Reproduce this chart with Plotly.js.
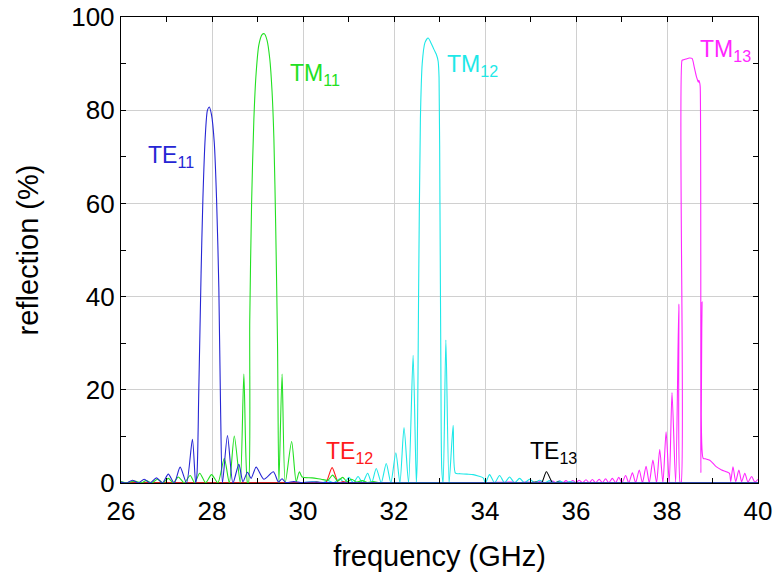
<!DOCTYPE html>
<html>
<head>
<meta charset="utf-8">
<script src="https://cdn.plot.ly/plotly-3.0.1.min.js"></script>
<style>html,body{margin:0;padding:0;background:#fff}#chart{width:779px;height:585px}</style>
</head>
<body>
<div id="chart"></div>
<script>
// ---- data (frequency in GHz, reflection in %) ----
const te11Freq = [26.0, 26.12, 26.25, 26.38, 26.51, 26.64, 26.78, 26.91, 27.04, 27.17, 27.30, 27.44, 27.57, 27.64, 27.67, 27.71, 27.76, 27.80, 27.85, 27.90, 27.94, 27.99, 28.05, 28.10, 28.15, 28.19, 28.23, 28.34, 28.46, 28.59, 28.68, 28.78, 28.86, 28.97, 29.14, 29.35, 29.46, 29.54, 29.62, 29.80, 29.95, 30.20, 30.50, 31.0, 32.0, 34.0, 36.0, 38.0, 40.0];
const te11Refl = [0.2, 0.0, 0.6, 0.0, 0.8, 0.0, 1.1, 0.0, 1.9, 0.0, 3.4, 0.0, 9.4, 0.0, 2.0, 20, 45, 61, 74, 80, 80.7, 79, 73, 61, 42, 15, 0, 10.2, 0, 4.0, 0.3, 2.3, 1.0, 3.4, 0.8, 2.4, 0.2, 0.9, 0.1, 0.3, 0.1, 0.2, 0.1, 0.05, 0.05, 0.05, 0.05, 0.05, 0.05];

const tm11Freq = [26.0, 26.1, 26.3, 26.45, 26.55, 26.68, 26.8, 26.92, 27.04, 27.15, 27.26, 27.39, 27.52, 27.62, 27.73, 27.86, 27.99, 28.13, 28.27, 28.38, 28.49, 28.62, 28.70, 28.78, 28.80, 28.83, 28.87, 28.92, 28.97, 29.03, 29.10, 29.15, 29.21, 29.27, 29.32, 29.36, 29.40, 29.44, 29.47, 29.54, 29.61, 29.75, 29.85, 29.92, 29.98, 30.2, 30.4, 30.55, 30.65, 30.76, 30.87, 30.97, 31.07, 31.18, 31.3, 31.42, 31.55, 31.7, 32.0, 34.0, 36.0, 38.0, 40.0];
const tm11Refl = [0.3, 0.05, 0.4, 0.05, 0.5, 0.05, 0.8, 0.05, 1.0, 0.05, 1.3, 0.05, 1.6, 0.05, 2.1, 0.05, 1.8, 0.05, 5.3, 0.05, 10.1, 0.05, 23.4, 0.05, 0.0, 35, 60, 78, 88, 94, 96.2, 96.4, 95, 91, 84, 74, 55, 30, 0.0, 23.4, 0.05, 8.9, 0.3, 2.4, 1.3, 1.1, 0.8, 0.6, 1.7, 0.4, 1.2, 0.3, 0.8, 0.2, 0.5, 0.1, 0.3, 0.05, 0.1, 0.05, 0.05, 0.05, 0.05];

const te12Freq = [26.0, 28.0, 30.0, 30.2, 30.3, 30.4, 30.5, 30.64, 30.78, 30.88, 31.0, 32.0, 34.0, 36.0, 38.0, 40.0];
const te12Refl = [0.05, 0.05, 0.05, 0.05, 0.2, 0.02, 0.0, 3.3, 0.0, 0.3, 0.02, 0.05, 0.05, 0.05, 0.05, 0.05];

const tm12Freq = [26.0, 27.0, 28.0, 29.0, 30.0, 30.3, 30.42, 30.55, 30.68, 30.81, 30.91, 31.01, 31.11, 31.21, 31.31, 31.42, 31.51, 31.61, 31.72, 31.83, 31.93, 32.04, 32.13, 32.22, 32.32, 32.42, 32.49, 32.51, 32.54, 32.58, 32.62, 32.68, 32.75, 32.81, 32.88, 32.93, 32.97, 32.99, 33.01, 33.03, 33.05, 33.08, 33.14, 33.21, 33.30, 33.35, 33.45, 33.6, 33.74, 33.85, 33.96, 34.01, 34.10, 34.21, 34.32, 34.43, 34.54, 34.65, 34.76, 34.87, 34.98, 35.09, 35.2, 35.31, 35.42, 35.53, 35.64, 35.75, 35.86, 36.0, 36.5, 37.0, 38.0, 39.0, 40.0];
const tm12Refl = [0.05, 0.05, 0.05, 0.05, 0.1, 0.3, 0.05, 0.5, 0.05, 0.9, 0.05, 1.2, 0.05, 1.4, 0.05, 2.1, 0.05, 3.1, 0.05, 4.2, 0.05, 6.5, 0.05, 11.9, 0.05, 27.4, 0.0, 5, 40, 78, 90, 94.5, 95.5, 94.5, 93, 92, 90.5, 87, 60, 25, 3, 0.0, 30.7, 0.0, 12.4, 2.1, 2.0, 1.9, 1.8, 1.5, 1.1, 0.05, 1.8, 0.05, 1.6, 0.05, 1.3, 0.05, 1.0, 0.05, 0.8, 0.05, 0.6, 0.05, 0.5, 0.05, 0.4, 0.05, 0.3, 0.05, 0.05, 0.05, 0.05, 0.05, 0.05];

const te13Freq = [26.0, 30.0, 34.0, 35.0, 35.12, 35.24, 35.35, 35.49, 35.6, 35.7, 36.0, 40.0];
const te13Refl = [0.05, 0.05, 0.05, 0.05, 0.2, 0.0, 2.4, 0.0, 0.2, 0.02, 0.05, 0.05];

const tm13Freq = [26.0, 28.0, 30.0, 32.0, 34.0, 34.6, 34.76, 34.91, 35.05, 35.2, 35.35, 35.49, 35.56, 35.64, 35.71, 35.78, 35.85, 35.93, 36.0, 36.07, 36.14, 36.22, 36.29, 36.36, 36.43, 36.51, 36.58, 36.65, 36.72, 36.80, 36.87, 36.94, 37.01, 37.09, 37.16, 37.24, 37.31, 37.39, 37.46, 37.54, 37.61, 37.69, 37.77, 37.84, 37.91, 37.98, 38.05, 38.11, 38.19, 38.26, 38.29, 38.31, 38.33, 38.35, 38.42, 38.49, 38.55, 38.60, 38.65, 38.69, 38.70, 38.72, 38.73, 38.745, 38.77, 38.795, 38.84, 38.94, 39.08, 39.2, 39.37, 39.40, 39.45, 39.51, 39.58, 39.64, 39.71, 39.78, 39.86, 39.93, 40.0];
const tm13Refl = [0.05, 0.05, 0.05, 0.05, 0.1, 0.2, 0.05, 0.25, 0.05, 0.3, 0.05, 0.4, 0.05, 0.45, 0.05, 0.5, 0.05, 0.55, 0.05, 0.6, 0.05, 0.7, 0.05, 0.75, 0.05, 0.8, 0.05, 0.9, 0.05, 1.0, 0.05, 1.2, 0.05, 1.6, 0.05, 2.2, 0.05, 2.8, 0.05, 3.6, 0.05, 4.9, 0.05, 7.2, 0.05, 11.0, 0.05, 19.4, 0.05, 38.4, 0.0, 0.0, 90.7, 90.8, 91.0, 91.2, 91.1, 89.2, 87.1, 86.0, 86.4, 85.8, 85.0, 2.2, 38.9, 5.3, 5.2, 4.9, 3.5, 2.8, 2.1, 0.3, 3.5, 0.3, 2.8, 0.3, 2.1, 0.2, 1.4, 0.2, 0.8];

const modeLabels = ['TE<sub>11</sub>', 'TM<sub>11</sub>', 'TE<sub>12</sub>', 'TM<sub>12</sub>', 'TE<sub>13</sub>', 'TM<sub>13</sub>'];
const labelFreq = [26.54, 29.66, 30.47, 33.12, 34.94, 38.68];
const labelRefl = [73.5, 91.2, 10.1, 93.2, 10.1, 96.3];
const modeColors = ['#2626d4', '#22e022', '#ff1a1a', '#1ee8e8', '#000000', '#ff26ff'];

const xTickVals = [26, 28, 30, 32, 34, 36, 38, 40];
const yTickVals = [0, 20, 40, 60, 80, 100];

// ---- build traces ----
const series = [
  [tm13Freq, tm13Refl, 5],
  [tm12Freq, tm12Refl, 3],
  [te13Freq, te13Refl, 4],
  [te12Freq, te12Refl, 2],
  [tm11Freq, tm11Refl, 1],
  [te11Freq, te11Refl, 0]
];
const traces = series.map(s => ({
  x: s[0], y: s[1], type: 'scatter', mode: 'lines',
  line: {color: modeColors[s[2]], width: 1.1, shape: 'spline', smoothing: 0.7},
  hoverinfo: 'skip', showlegend: false
}));

const font = 'Liberation Sans, Arial, Helvetica, sans-serif';
const annotations = modeLabels.map((t, i) => ({
  text: t, x: labelFreq[i], y: labelRefl[i], xref: 'x', yref: 'y',
  xanchor: 'left', yanchor: 'top', showarrow: false,
  font: {family: font, size: 23, color: modeColors[i]}
}));

const axisCommon = {
  showline: true, linecolor: '#000', linewidth: 1.2, mirror: 'ticks',
  ticks: 'inside', ticklen: 5, tickwidth: 1, tickcolor: '#000',
  showgrid: true, gridcolor: '#d0d0d0', gridwidth: 1, zeroline: false,
  tickfont: {family: font, size: 26, color: '#000'}
};

const layout = {
  width: 779, height: 585,
  margin: {l: 121, r: 20.5, t: 16.5, b: 102, pad: 0},
  paper_bgcolor: '#fff', plot_bgcolor: '#fff',
  font: {family: font, color: '#000'},
  showlegend: false,
  xaxis: Object.assign({}, axisCommon, {
    range: [26, 40], tickmode: 'array', tickvals: xTickVals,
    ticklabelstandoff: 5,
    minor: {dtick: 1, tick0: 26, ticks: 'inside', ticklen: 5, tickcolor: '#000', showgrid: false},
    title: {text: 'frequency (GHz)', font: {family: font, size: 29, color: '#000'}, standoff: 20}
  }),
  yaxis: Object.assign({}, axisCommon, {
    range: [0, 100], tickmode: 'array', tickvals: yTickVals,
    minor: {dtick: 10, tick0: 0, ticks: 'inside', ticklen: 5, tickcolor: '#000', showgrid: false},
    title: {text: 'reflection (%)', font: {family: font, size: 29, color: '#000'}, standoff: 24}
  }),
  annotations: annotations
};

Plotly.newPlot('chart', traces, layout, {staticPlot: true, displayModeBar: false});
</script>
</body>
</html>
